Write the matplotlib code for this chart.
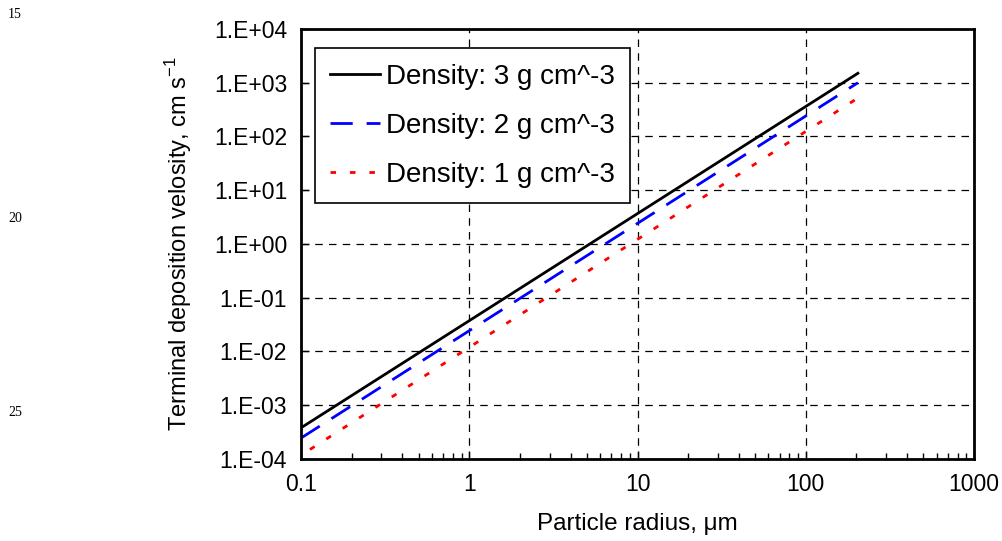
import numpy as np
import matplotlib
matplotlib.use("Agg")
import matplotlib.pyplot as plt
from matplotlib.ticker import FuncFormatter, LogLocator, NullFormatter

plt.rcParams['font.family'] = ['Liberation Sans', 'DejaVu Sans']
plt.rcParams['mathtext.fontset'] = 'custom'
plt.rcParams['mathtext.rm'] = 'Liberation Sans'

# Line endpoints (straight lines on log-log axes)
radius_3 = [0.1, 204]
velocity_3 = [3.8e-4, 1.5e3]
radius_2 = [0.1, 204]
velocity_2 = [2.45e-4, 1.0e3]
radius_1 = [0.113, 200]
velocity_1 = [1.5e-4, 5.0e2]

labels = ['Density: 3 g cm^-3', 'Density: 2 g cm^-3', 'Density: 1 g cm^-3']

fig = plt.figure(figsize=(10.02, 5.41), dpi=100)
ax = fig.add_axes([0.3004, 0.1516, 0.6717, 0.7948])

ax.plot(radius_3, velocity_3, color='black', linewidth=2, label=labels[0])
ax.plot(radius_2, velocity_2, color='#0000ff', linewidth=2, dashes=(8, 5), label=labels[1])
ax.plot(radius_1, velocity_1, color='#ff0000', linewidth=2, dashes=(2, 5), label=labels[2])

ax.set_xscale('log')
ax.set_yscale('log')
ax.set_xlim(0.1, 1000)
ax.set_ylim(1e-4, 1e4)

ax.xaxis.set_major_locator(LogLocator(base=10, numticks=10))
ax.xaxis.set_minor_locator(LogLocator(base=10, subs=np.arange(2, 10), numticks=20))
ax.xaxis.set_minor_formatter(NullFormatter())
ax.xaxis.set_major_formatter(FuncFormatter(lambda v, p: f'{v:g}'))

ax.yaxis.set_major_locator(LogLocator(base=10, numticks=20))
ax.yaxis.set_minor_locator(LogLocator(base=10, subs=[], numticks=20))
ax.yaxis.set_minor_formatter(NullFormatter())

def sci(v, p):
    e = int(round(np.log10(v)))
    return f'1.E{"+" if e >= 0 else "-"}{abs(e):02d}'

ax.yaxis.set_major_formatter(FuncFormatter(sci))

ax.tick_params(axis='both', which='major', direction='in', length=6, width=1,
               labelsize=16.5, top=False, right=False)
ax.tick_params(axis='y', which='major', pad=10)
ax.tick_params(axis='x', which='major', pad=10)
ax.tick_params(axis='x', which='minor', direction='in', length=4, width=1, top=False)
ax.tick_params(axis='y', which='minor', left=False, right=False)

ax.grid(True, which='major', color='black', linestyle=(0, (6, 5)), linewidth=0.9)

for s in ax.spines.values():
    s.set_linewidth(2)

ax.set_xlabel('Particle radius, \u03bcm', fontsize=17.5, labelpad=12)
ax.set_ylabel('Terminal deposition velosity, cm s$^{\\mathregular{-1}}$', fontsize=17, labelpad=14)

leg = ax.legend(loc='upper left', bbox_to_anchor=(0.021, 0.955), fontsize=20,
                frameon=True, fancybox=False, edgecolor='black', framealpha=1,
                handlelength=1.8, handletextpad=0.2, labelspacing=0.83,
                borderpad=0.55, borderaxespad=0)
leg.get_frame().set_linewidth(1.2)

for txt, ypx in [('15', 15), ('20', 218), ('25', 412)]:
    fig.text(15 / 1002, 1 - ypx / 541, txt, fontsize=10, family='Liberation Serif',
             ha='center', va='center')

fig.savefig('out.png', dpi=100)
